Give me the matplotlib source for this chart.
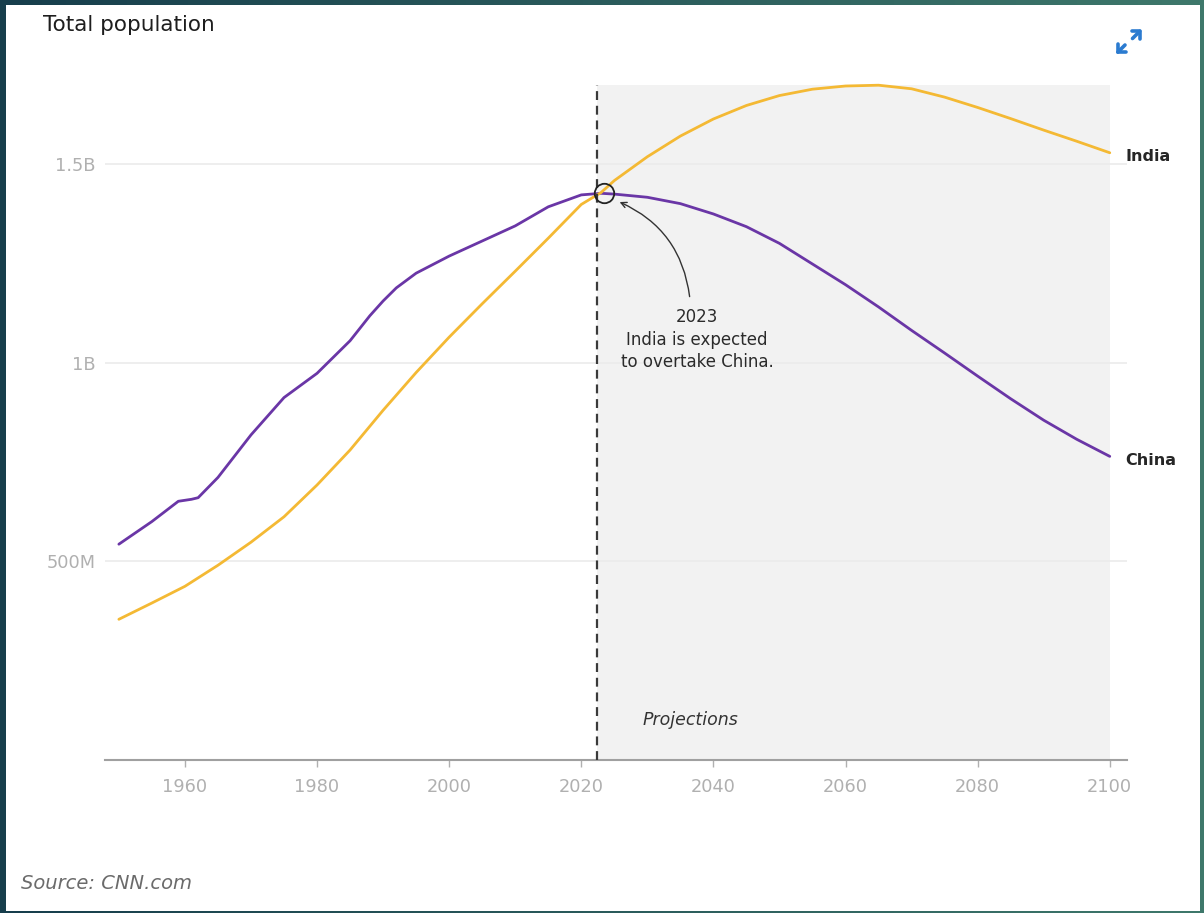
import numpy as np
import matplotlib.pyplot as plt
from matplotlib.colors import to_rgb
from matplotlib.patches import Rectangle

# Population in millions (history to 2022, projections after)
china_years = [1950, 1955, 1959, 1961, 1962, 1965, 1970, 1975, 1980, 1985, 1988,
               1990, 1992, 1995, 2000, 2005, 2010, 2015, 2020, 2023, 2025, 2030,
               2035, 2040, 2045, 2050, 2055, 2060, 2065, 2070, 2075, 2080, 2085,
               2090, 2095, 2100]
china_pop = [543, 600, 651, 656, 660, 711, 818, 912, 973, 1055, 1118,
             1155, 1188, 1225, 1268, 1306, 1344, 1392, 1422, 1426, 1424, 1416,
             1400, 1374, 1342, 1300, 1248, 1196, 1140, 1081, 1024, 966, 909,
             855, 807, 764]

india_years = [1950, 1955, 1960, 1965, 1970, 1975, 1980, 1985, 1990, 1995, 2000,
               2005, 2010, 2015, 2020, 2023, 2025, 2030, 2035, 2040, 2045, 2050,
               2055, 2060, 2065, 2070, 2075, 2080, 2085, 2090, 2095, 2100]
india_pop = [354, 395, 437, 490, 548, 612, 692, 780, 880, 975, 1064,
             1148, 1230, 1313, 1398, 1428, 1458, 1518, 1570, 1613, 1647, 1672,
             1688, 1696, 1698, 1689, 1668, 1642, 1614, 1585, 1557, 1528]

projection_start = 2022.4
crossing_year, crossing_pop = 2023.4, 1427

x_ticks = [1960, 1980, 2000, 2020, 2040, 2060, 2080, 2100]
y_ticks = [500, 1000, 1500]
y_tick_labels = ['500M', '1B', '1.5B']

china_color = '#6a36a6'
india_color = '#f4b934'

fig = plt.figure(figsize=(12.04, 9.13), dpi=100)

# dark teal frame with a white card on top
bg = fig.add_axes([0, 0, 1, 1])
left_c, right_c = np.array(to_rgb('#173e4c')), np.array(to_rgb('#3e786b'))
t = np.linspace(0, 1, 256)
grad = (left_c[None, :] * (1 - t[:, None]) + right_c[None, :] * t[:, None])[None, :, :]
bg.imshow(grad, extent=[0, 1204, 913, 0], aspect='auto')
bg.add_patch(Rectangle((6, 5), 1194, 906, facecolor='white', edgecolor='none'))
bg.set_xlim(0, 1204)
bg.set_ylim(913, 0)
bg.axis('off')

# expand icon
for head, tail in [((1141.5, 29.5), (1132.5, 38.5)), ((1116, 54), (1125, 45))]:
    bg.annotate('', xy=head, xytext=tail,
                arrowprops=dict(arrowstyle='->,head_length=0.4,head_width=0.4',
                                lw=2.6, color='#2b7bd0', shrinkA=0, shrinkB=0))

ax = fig.add_axes([0.0872, 0.1676, 0.8488, 0.7617])
ax.set_facecolor('none')

# projections shading
ax.fill_between([projection_start, india_years[-1]], 0, max(india_pop),
                color='#f2f2f2', zorder=0, linewidth=0)

for y in y_ticks:
    ax.axhline(y, color='#ebebeb', lw=1.2, zorder=1)

ax.plot(china_years, china_pop, color=china_color, lw=2.0, zorder=3,
        solid_capstyle='round', solid_joinstyle='round')
ax.plot(india_years, india_pop, color=india_color, lw=2.0, zorder=3,
        solid_capstyle='round', solid_joinstyle='round')

ax.plot([projection_start, projection_start], [0, max(india_pop)],
        color='#3a3a3a', lw=1.6, linestyle=(0, (4, 2.6)), zorder=4)

ax.plot(crossing_year, crossing_pop, 'o', ms=14, mfc='none', mec='#222222',
        mew=1.3, zorder=5)

ax.annotate('', xy=(2025.8, 1404), xytext=(2036.4, 1166),
            arrowprops=dict(arrowstyle='->', connectionstyle='arc3,rad=0.28',
                            color='#333333', lw=1.0, shrinkA=0, shrinkB=0))
ax.text(2037.5, 1058, '2023\nIndia is expected\nto overtake China.',
        ha='center', va='center', multialignment='center', fontsize=12,
        color='#2b2b2b', linespacing=1.3)

ax.text(2029.3, 100, 'Projections', style='italic', fontsize=12.5,
        color='#333333', va='center', ha='left')

ax.annotate('India', xy=(india_years[-1], india_pop[-1]), xytext=(11.5, -3),
            textcoords='offset points', va='center', ha='left', fontsize=11.5,
            fontweight='bold', color='#262626', annotation_clip=False)
ax.annotate('China', xy=(china_years[-1], china_pop[-1]), xytext=(11.5, -3),
            textcoords='offset points', va='center', ha='left', fontsize=11.5,
            fontweight='bold', color='#262626', annotation_clip=False)

ax.set_xlim(1947.9, 2102.6)
ax.set_ylim(0, 1750)
ax.set_xticks(x_ticks)
ax.set_yticks(y_ticks)
ax.set_yticklabels(y_tick_labels)

for side in ['top', 'right', 'left']:
    ax.spines[side].set_visible(False)
ax.spines['bottom'].set_color('#a0a0a0')
ax.spines['bottom'].set_linewidth(1.5)

ax.tick_params(axis='x', direction='out', length=5, width=1, color='#b0b0b0',
               labelsize=12.8, labelcolor='#b0b0b0', pad=8)
ax.tick_params(axis='y', length=0, labelsize=12.8, labelcolor='#b0b0b0', pad=7)

fig.text(43 / 1204, 1 - 25 / 913, 'Total population', fontsize=15.5,
         color='#1e1e1e', va='center', ha='left')
fig.text(21 / 1204, 1 - 883 / 913, 'Source: CNN.com', fontsize=14,
         style='italic', color='#6b6b6b', va='center', ha='left')

fig.savefig('out.png', dpi=100)
